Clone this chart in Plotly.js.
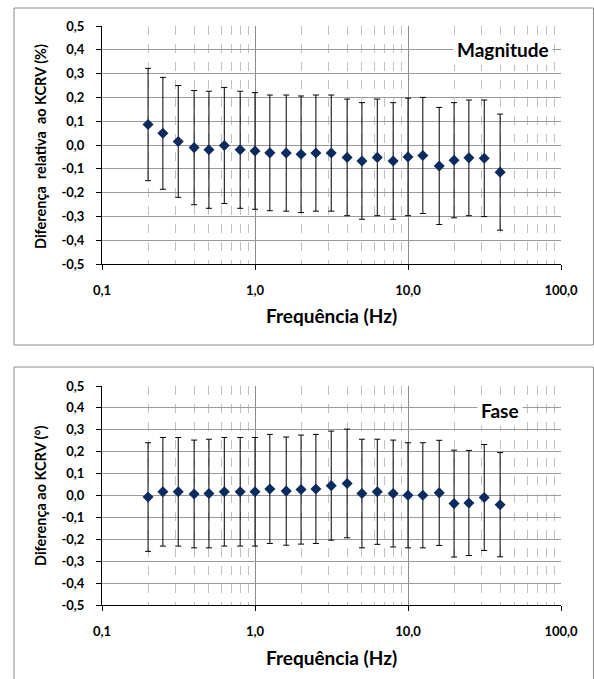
<!DOCTYPE html>
<html><head><meta charset="utf-8">
<script src="https://cdn.plot.ly/plotly-3.0.1.min.js"></script>
<style>html,body{margin:0;padding:0;background:#fff}#chart{width:594px;height:679px}</style>
</head><body><div id="chart"></div>
<script>
// Frequencies (Hz)
const freq = [0.2,0.25,0.315,0.4,0.5,0.63,0.8,1.0,1.25,1.6,2.0,2.5,3.15,4,5,6.3,8,10,12.5,16,20,25,31.5,40];
// Magnitude: relative difference to KCRV (%) and expanded uncertainty
const magDiff = [0.086,0.049,0.015,-0.011,-0.020,-0.002,-0.020,-0.025,-0.033,-0.034,-0.039,-0.034,-0.034,-0.052,-0.067,-0.052,-0.067,-0.050,-0.044,-0.088,-0.064,-0.054,-0.056,-0.114];
const magUnc  = [0.236,0.235,0.235,0.240,0.246,0.244,0.246,0.245,0.243,0.244,0.245,0.244,0.244,0.245,0.245,0.245,0.245,0.247,0.244,0.246,0.242,0.243,0.245,0.244];
// Phase: difference to KCRV (°) and expanded uncertainty
const phDiff = [-0.007,0.017,0.017,0.007,0.009,0.017,0.017,0.017,0.030,0.020,0.027,0.030,0.045,0.055,0.009,0.017,0.009,0.001,0.001,0.012,-0.037,-0.034,-0.009,-0.042];
const phUnc  = [0.248,0.248,0.248,0.246,0.248,0.248,0.248,0.248,0.249,0.247,0.249,0.249,0.249,0.248,0.248,0.240,0.244,0.240,0.240,0.240,0.244,0.240,0.242,0.238];
// Tick labels
const xTickVals = [0.1,1,10,100];
const xTickText = ['0,1','1,0','10,0','100,0'];
const yTickVals = [-0.5,-0.4,-0.3,-0.2,-0.1,0,0.1,0.2,0.3,0.4,0.5];
const yTickText = ['-0,5','-0,4','-0,3','-0,2','-0,1','0,0','0,1','0,2','0,3','0,4','0,5'];

const W = 594, H = 679;
const px = x => x / W;
const py = y => 1 - y / H;
const FONT = 'Lato, "Open Sans", sans-serif';
const navy = '#0b2a5e';

function trace(y, e, xa, ya) {
  return {
    x: freq, y: y, xaxis: xa, yaxis: ya, type: 'scatter', mode: 'markers',
    marker: {symbol: 'diamond', size: 8.5, color: navy},
    error_y: {type: 'data', array: e, visible: true, color: '#000', thickness: 1, width: 3},
    showlegend: false, hoverinfo: 'x+y'
  };
}

function xax(anchor) {
  return {
    type: 'log', range: [-1, 2], anchor: anchor, domain: [px(102), px(561)],
    tickmode: 'array', tickvals: xTickVals, ticktext: xTickText,
    showline: true, linecolor: '#000', linewidth: 1,
    ticks: 'outside', ticklen: 5, tickcolor: '#000',
    showgrid: true, gridcolor: '#8c8c8c', gridwidth: 1,
    minor: {dtick: 'D1', showgrid: true, gridcolor: '#c0c0c0', griddash: 'dash', gridwidth: 1, ticks: ''},
    zeroline: false, ticklabelstandoff: 9,
    tickfont: {family: FONT, size: 13, color: '#000', weight: 'bold'}
  };
}
function yax(anchor, d) {
  return {
    range: [-0.5, 0.5], anchor: anchor, domain: d,
    tickmode: 'array', tickvals: yTickVals, ticktext: yTickText,
    showline: true, linecolor: '#000', linewidth: 1,
    ticks: 'outside', ticklen: 5, tickcolor: '#000',
    showgrid: true, gridcolor: '#9a9a9a', gridwidth: 1,
    zeroline: false, ticklabelstandoff: 9,
    tickfont: {family: FONT, size: 13, color: '#000', weight: 'bold'}
  };
}

const bold = (s) => ({family: FONT, size: s, color: '#000', weight: 'bold'});

const layout = {
  width: W, height: H,
  margin: {l: 0, r: 0, t: 0, b: 0},
  paper_bgcolor: '#fff', plot_bgcolor: '#fff',
  xaxis: xax('y'),
  yaxis: yax('x', [py(264), py(26)]),
  xaxis2: xax('y2'),
  yaxis2: yax('x2', [py(605), py(386)]),
  shapes: [
    {type: 'rect', xref: 'paper', yref: 'paper', x0: px(14), x1: px(593.5), y0: py(345), y1: py(8), line: {color: '#8a8a8a', width: 1}, layer: 'below'},
    {type: 'rect', xref: 'paper', yref: 'paper', x0: px(14), x1: px(593.5), y0: py(690), y1: py(367), line: {color: '#8a8a8a', width: 1}, layer: 'below'}
  ],
  annotations: [
    {text: 'Magnitude', xref: 'paper', yref: 'paper', x: px(503), y: py(50), showarrow: false, font: bold(19), bgcolor: '#fff', borderpad: 3, xanchor: 'center', yanchor: 'middle'},
    {text: 'Fase', xref: 'paper', yref: 'paper', x: px(500), y: py(410), showarrow: false, font: bold(19), bgcolor: '#fff', borderpad: 3, xanchor: 'center', yanchor: 'middle'},
    {text: 'Frequência (Hz)', xref: 'paper', yref: 'paper', x: px(331), y: py(315), showarrow: false, font: bold(19), xanchor: 'center', yanchor: 'middle'},
    {text: 'Frequência (Hz)', xref: 'paper', yref: 'paper', x: px(331), y: py(657), showarrow: false, font: bold(19), xanchor: 'center', yanchor: 'middle'},
    {text: 'Diferença  relativa  ao KCRV (%)', xref: 'paper', yref: 'paper', x: px(40), y: py(147), showarrow: false, font: bold(14.5), textangle: -90, xanchor: 'center', yanchor: 'middle'},
    {text: 'Diferença ao KCRV (°)', xref: 'paper', yref: 'paper', x: px(40), y: py(496), showarrow: false, font: bold(14.5), textangle: -90, xanchor: 'center', yanchor: 'middle'}
  ]
};

Plotly.newPlot('chart', [trace(magDiff, magUnc, 'x', 'y'), trace(phDiff, phUnc, 'x2', 'y2')], layout, {displayModeBar: false, staticPlot: true});
</script>
</body></html>
